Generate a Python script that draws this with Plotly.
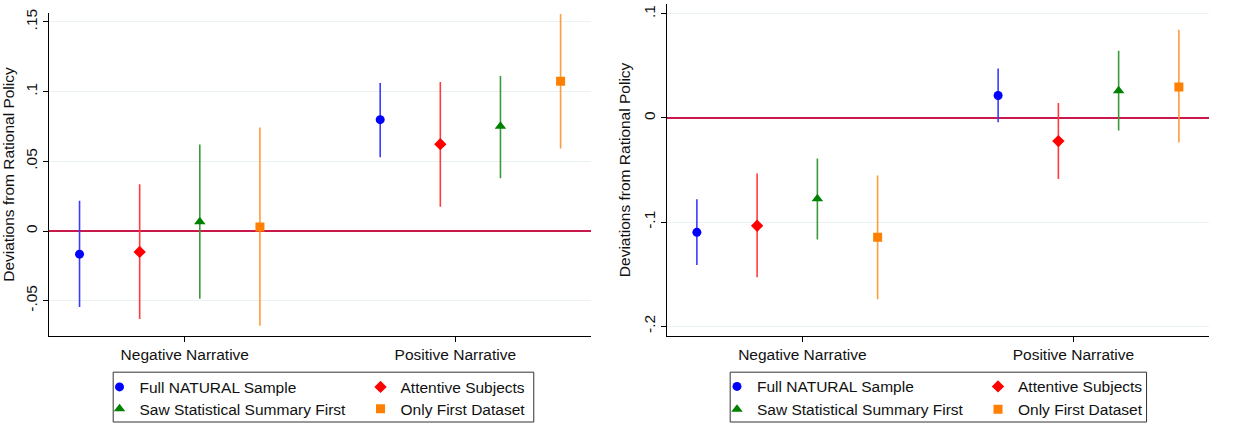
import plotly.graph_objects as go

categories = ["Negative Narrative", "Positive Narrative"]
series_names = ["Full NATURAL Sample", "Attentive Subjects",
                "Saw Statistical Summary First", "Only First Dataset"]

# Left panel: point estimates and confidence bounds, [series][category]
left_est = [[-0.0166, 0.0799], [-0.0150, 0.0623], [0.0066, 0.0751], [0.0028, 0.1074]]
left_lo = [[-0.0546, 0.0529], [-0.0631, 0.0175], [-0.0486, 0.0379], [-0.0680, 0.0592]]
left_hi = [[0.0218, 0.1062], [0.0336, 0.1069], [0.0621, 0.1112], [0.0742, 0.1558]]
left_ticks = [-0.05, 0, 0.05, 0.1, 0.15]
left_ticktext = ["-.05", "0", ".05", ".1", ".15"]

# Right panel
right_est = [[-0.1098, 0.0216], [-0.1035, -0.0222], [-0.0776, 0.0262], [-0.1146, 0.0298]]
right_lo = [[-0.1413, -0.0041], [-0.1530, -0.0587], [-0.1168, -0.0121], [-0.1740, -0.0235]]
right_hi = [[-0.0781, 0.0476], [-0.0533, 0.0143], [-0.0390, 0.0645], [-0.0552, 0.0848]]
right_ticks = [-0.2, -0.1, 0, 0.1]
right_ticktext = ["-.2", "-.1", "0", ".1"]

y_title = "Deviations from Rational Policy"

marker_colors = ["#0000ff", "#ff0000", "#008000", "#ff7f00"]
line_colors = ["#3b3bff", "#ff3c3c", "#3a9a3a", "#ff9c3c"]
symbols = ["circle", "diamond", "triangle-up", "square"]
sizes = [9, 9.5, 10, 9]

W, H = 1239, 427
FONT = "Liberation Sans, Arial, sans-serif"
FS = 15.5

def px_x(p):
    return p / W

def px_y(p):
    return 1 - p / H

fig = go.Figure()

def slot(cat_idx, ser_idx):
    # nine equal slots across [0.5, 2.5]; the middle slot is empty
    k = cat_idx * 5 + ser_idx
    return 0.5 + (k + 0.5) * (2.0 / 9.0)

panels = [
    ("x", "y", left_est, left_lo, left_hi, ["legend", "legend2"]),
    ("x2", "y2", right_est, right_lo, right_hi, ["legend3", "legend4"]),
]

for xa, ya, est, lo, hi, legs in panels:
    for s in range(4):
        xs = [slot(c, s) for c in range(len(categories))]
        ys = est[s]
        plus = [hi[s][c] - est[s][c] for c in range(len(categories))]
        minus = [est[s][c] - lo[s][c] for c in range(len(categories))]
        fig.add_trace(go.Scatter(
            x=xs, y=ys, mode="markers", name=series_names[s],
            xaxis=xa, yaxis=ya,
            legend=legs[0] if s < 2 else legs[1],
            marker=dict(symbol=symbols[s], size=sizes[s], color=marker_colors[s],
                        line=dict(width=0)),
            error_y=dict(type="data", symmetric=False, array=plus, arrayminus=minus,
                         color=line_colors[s], thickness=1.6, width=0),
        ))

top_left, top_right, bottom = 13.3, 4.0, 339.0

def y_axis(ticks, text, rng, dom):
    return dict(
        domain=dom, range=rng, tickmode="array", tickvals=ticks, ticktext=text,
        tickangle=-90, ticks="outside", ticklen=5, tickcolor="black", tickwidth=1,
        showline=True, linecolor="black", linewidth=1,
        showgrid=True, gridcolor="#eaf2f3", gridwidth=1,
        zeroline=True, zerolinecolor="#c8194a", zerolinewidth=1.6,
        tickfont=dict(family=FONT, size=FS, color="#111"),
        title=dict(text=y_title, font=dict(family=FONT, size=FS, color="#111"), standoff=6),
        automargin=False, fixedrange=True,
    )

def x_axis(dom, anchor):
    return dict(
        domain=dom, range=[0.5, 2.5], tickmode="array", tickvals=[1, 2], ticktext=categories,
        ticks="outside", ticklen=5, tickcolor="black", tickwidth=1,
        showline=True, linecolor="black", linewidth=1, showgrid=False, zeroline=False,
        tickfont=dict(family=FONT, size=FS, color="#111"),
        anchor=anchor, automargin=False, fixedrange=True,
    )

ydom_l = [px_y(bottom), px_y(top_left)]
ydom_r = [px_y(bottom), px_y(top_right)]

fig.update_layout(
    width=W, height=H, margin=dict(l=0, r=0, t=0, b=0),
    paper_bgcolor="white", plot_bgcolor="white",
    font=dict(family=FONT, size=FS, color="#111"),
    xaxis=x_axis([px_x(50.7), px_x(605.3)], "y"),
    xaxis2=x_axis([px_x(683.3), 1.0], "y2"),
    yaxis=y_axis(left_ticks, left_ticktext, [-0.0752, 0.1563], ydom_l) | dict(anchor="x"),
    yaxis2=y_axis(right_ticks, right_ticktext, [-0.2092, 0.1095], ydom_r) | dict(anchor="x2"),
    showlegend=True,
)

entry_w = 216
leg_common = dict(orientation="h", xanchor="left", yanchor="middle", bgcolor="rgba(0,0,0,0)",
                  borderwidth=0, entrywidth=entry_w, entrywidthmode="pixels",
                  font=dict(family=FONT, size=FS, color="#111"), itemclick=False,
                  itemdoubleclick=False, tracegroupgap=0)
fig.update_layout(
    legend=dict(x=px_x(102), y=px_y(391), **leg_common),
    legend2=dict(x=px_x(102), y=px_y(413), **leg_common),
    legend3=dict(x=px_x(735), y=px_y(390.5), **leg_common),
    legend4=dict(x=px_x(735), y=px_y(413.5), **leg_common),
)

for x0, x1 in [(116, 547), (748.3, 1175)]:
    fig.add_shape(type="rect", xref="paper", yref="paper",
                  x0=px_x(x0), x1=px_x(x1), y0=px_y(426), y1=px_y(375.7),
                  line=dict(color="#333", width=1), fillcolor="rgba(0,0,0,0)", layer="below")

fig.write_html(
    "out.html",
    config={"responsive": False, "displayModeBar": False},
    post_script=(
        "document.documentElement.style.margin='0';"
        "document.body.style.margin='0';"
        "document.body.style.overflow='hidden';"
        "document.documentElement.style.overflow='hidden';"
    ),
)
